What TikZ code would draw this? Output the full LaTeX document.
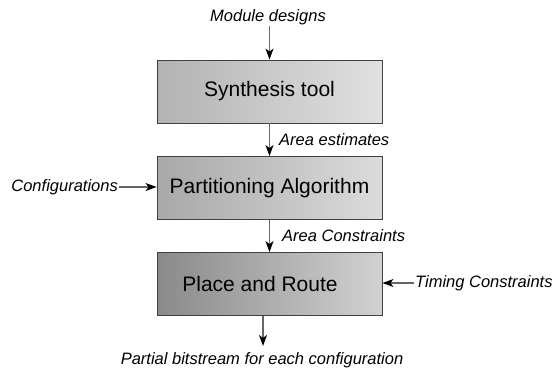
\documentclass[tikz,border=0pt]{standalone}
\usepackage{fontspec}
\setmainfont{Liberation Sans}
\usetikzlibrary{arrows.meta,calc}
\tikzset{
  proc_box/.style = {draw=black!75, line width=0.9pt, minimum width=225pt, minimum height=63pt,
    inner sep=0pt, font=\fontsize{21}{25}\selectfont},
  box_a/.style = {proc_box, left color=black!30, right color=black!12},
  box_b/.style = {proc_box, left color=black!34, right color=black!14},
  box_c/.style = {proc_box, left color=black!46, right color=black!18},
  lbl/.style = {inner sep=1pt, font=\fontsize{16.5}{19}\selectfont\itshape},
  flow/.style = {draw=black!60, line width=1.1pt, -{Stealth[black,length=11pt,width=8pt,inset=3pt]}}
}
\begin{document}
\begin{tikzpicture}[x=1pt,y=-1pt]
\useasboundingbox (0,0) rectangle (559,367);
% boxes
\node [box_a] (synth) at (269.5,91.5) {Synthesis tool};
\node [box_b] (part) at (269.5,188) {Partitioning Algorithm};
\node [box_c] (par) at (269.5,284) {};
\node [proc_box, draw=none, fill=none, anchor=center] (par_txt) at (260,284) {Place and Route};
% labels
\node [lbl] (mod) at (268,17) {Module designs};
\node [lbl, anchor=west] (est) at (278,139.5) {Area estimates};
\node [lbl, anchor=west] (acon) at (281,236) {Area Constraints};
\node [lbl, anchor=east] (cfg) at (119,187) {Configurations};
\node [lbl, anchor=west] (tim) at (414,283) {Timing Constraints};
\node [lbl] (bits) at (262,360) {Partial bitstream for each configuration};
\coordinate (out) at (263,346);
% connectors
\draw [flow] (mod.south -| synth.north) -- (synth.north);
\draw [flow] (synth.south) -- (part.north);
\draw [flow] (part.south) -- (par.north);
\draw [flow] (cfg.east) -- (cfg.east -| part.west);
\draw [flow] (tim.west) -- (tim.west -| par.east);
\draw [flow] (par.south -| out) -- (out);
\end{tikzpicture}
\end{document}
